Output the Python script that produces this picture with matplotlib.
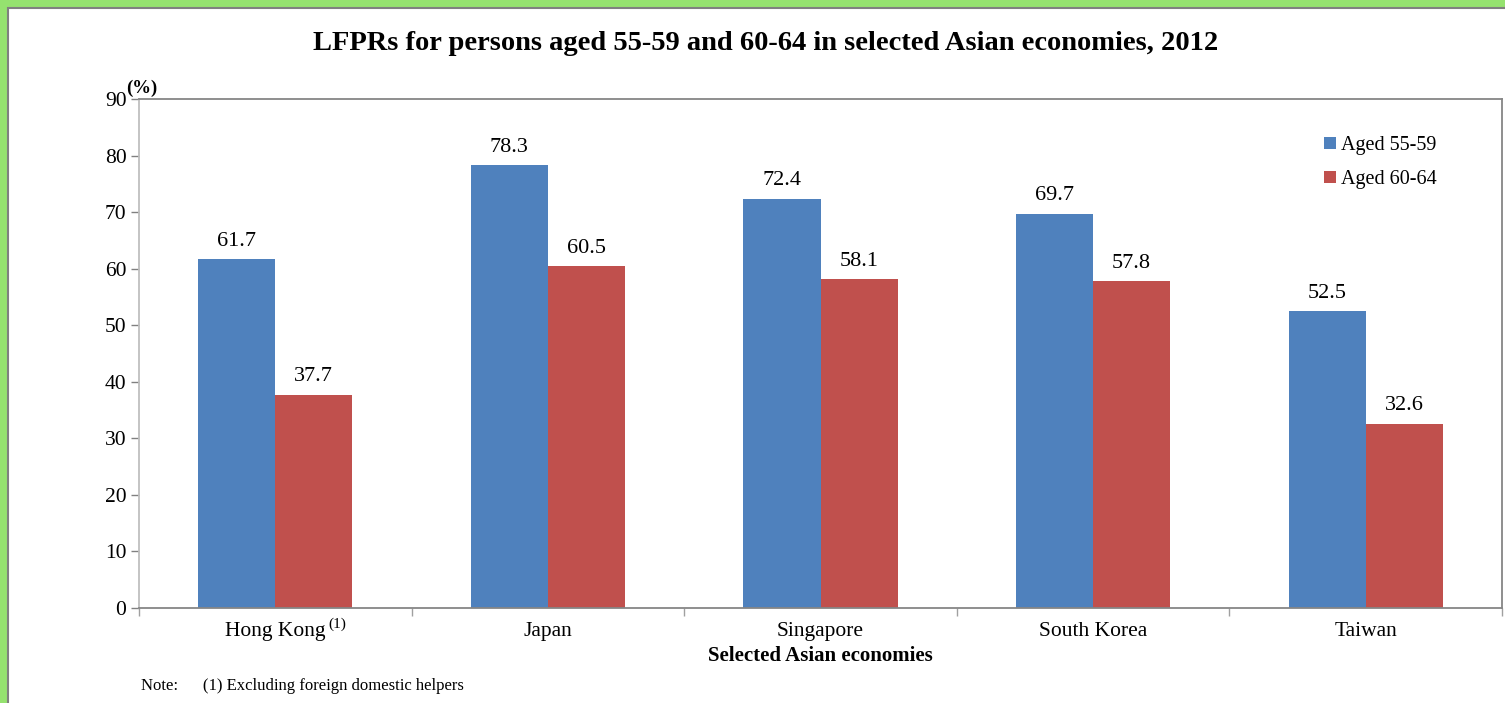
import matplotlib
matplotlib.use("Agg")
import matplotlib.pyplot as plt
from matplotlib.patches import Rectangle
import numpy as np

categories = ["Hong Kong", "Japan", "Singapore", "South Korea", "Taiwan"]
aged_55_59 = [61.7, 78.3, 72.4, 69.7, 52.5]
aged_60_64 = [37.7, 60.5, 58.1, 57.8, 32.6]
series_names = ["Aged 55-59", "Aged 60-64"]
yticks = list(range(0, 91, 10))

plt.rcParams['font.family'] = ['Liberation Serif', 'DejaVu Serif']

W, H = 1505, 703
fig = plt.figure(figsize=(W/100, H/100), dpi=100)
fig.patch.set_facecolor('#95E26F')
# white chart area with gray border
fig.add_artist(Rectangle((8/W, -0.2), 1.2, 1.2 - 8/H, transform=fig.transFigure,
                         facecolor='white', edgecolor='#808080', linewidth=1.5, zorder=0))

left, right, top, bottom = 139/W, 1502/W, 1 - 99/H, 1 - 608/H
ax = fig.add_axes([left, bottom, right-left, top-bottom])
ax.set_facecolor('white')

x = np.arange(len(categories))
bw = 0.283
blue, red = '#4F81BD', '#C0504D'
b1 = ax.bar(x - bw/2, aged_55_59, bw, color=blue, label=series_names[0], zorder=2)
b2 = ax.bar(x + bw/2, aged_60_64, bw, color=red, label=series_names[1], zorder=2)

for bars, vals in ((b1, aged_55_59), (b2, aged_60_64)):
    for rect, v in zip(bars, vals):
        ax.annotate(f"{v:.1f}", (rect.get_x() + rect.get_width()/2, v),
                    xytext=(0, 6), textcoords='offset points', ha='center', va='bottom',
                    fontsize=16)

ax.set_xlim(-0.5, len(categories) - 0.5)
ax.set_ylim(0, 90)
ax.set_yticks(yticks)
ax.set_yticklabels([str(t) for t in yticks], fontsize=15.5)
ax.tick_params(axis='y', length=6, width=1, color='#808080', pad=3)

ax.set_xticks(x)
ax.set_xticklabels(categories, fontsize=15.5)
ax.tick_params(axis='x', which='major', length=0, pad=10)
ax.set_xticks(np.arange(-0.5, len(categories)), minor=True)
ax.tick_params(axis='x', which='minor', length=6, width=1, color='#A0A0A0', direction='out')

for s in ['top', 'right', 'bottom']:
    ax.spines[s].set_color('#868686')
    ax.spines[s].set_linewidth(1.3)
ax.spines['left'].set_color('#BFBFBF')
ax.spines['left'].set_linewidth(1.3)

fig.text(820/W, 1 - 656/H, "Selected Asian economies", ha='center', va='center',
         fontsize=15, fontweight='bold')

fig.text(766/W, 1 - 44/H, "LFPRs for persons aged 55-59 and 60-64 in selected Asian economies, 2012",
         ha='center', va='center', fontsize=20.5, fontweight='bold')
fig.text(126/W, 1 - 88/H, "(%)", ha='left', va='center', fontsize=13.5, fontweight='bold')
fig.text(141/W, 1 - 686/H, "Note:      (1) Excluding foreign domestic helpers",
         ha='left', va='center', fontsize=12)

ax.legend(loc='upper left', bbox_to_anchor=(1314/W, 1 - 126/H), bbox_transform=fig.transFigure,
          frameon=False, fontsize=14.5, handlelength=0.6, handleheight=0.6, handletextpad=0.25,
          labelspacing=0.75, borderpad=0)

# superscript footnote marker after the Hong Kong tick label
fig.canvas.draw()
hk = ax.get_xticklabels()[0]
bb = hk.get_window_extent(renderer=fig.canvas.get_renderer())
fig.text((bb.x1 + 3) / W, (bb.y1 + 4) / H, "(1)", ha='left', va='top', fontsize=11)

fig.savefig("out.png", dpi=100, facecolor=fig.get_facecolor())
